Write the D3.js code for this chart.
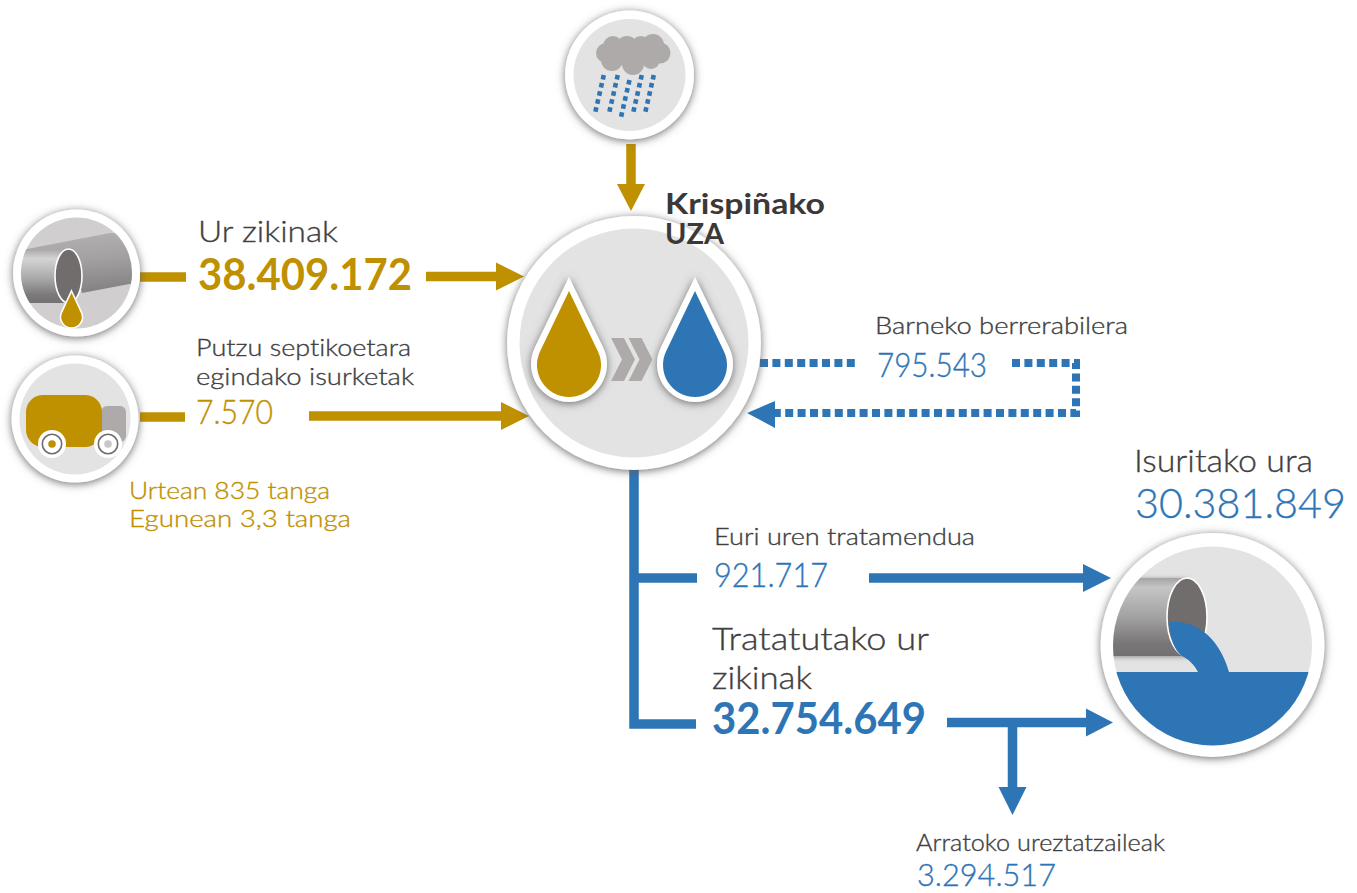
<!DOCTYPE html>
<html>
<head>
<meta charset="utf-8">
<script src="https://cdn.jsdelivr.net/npm/d3@7"></script>
<style>
  html, body { margin: 0; padding: 0; background: #fff; }
  svg { display: block; }
  text { font-family: Lato, "Open Sans", sans-serif; font-variant-ligatures: none; }
</style>
</head>
<body>
<svg id="flowplot" width="1357" height="893"></svg>
<script>
// plant name and flow labels
const plantName = ["Krispiñako", "UZA"]
const sewageLabel = "Ur zikinak"
const septicLabel = ["Putzu septikoetara", "egindako isurketak"]
const tankerNotes = ["Urtean 835 tanga", "Egunean 3,3 tanga"]
const reuseLabel = "Barneko berrerabilera"
const stormLabel = "Euri uren tratamendua"
const treatedLabel = ["Tratatutako ur", "zikinak"]
const dischargedLabel = "Isuritako ura"
const irrigationLabel = "Arratoko ureztatzaileak"

// yearly volumes
const sewageValue = 38409172
const septicValue = 7570
const reuseValue = 795543
const stormValue = 921717
const treatedValue = 32754649
const dischargedValue = 30381849
const irrigationValue = 3294517

const gold = "#bf9000"
const blue = "#2e75b6"
const dark = "#404040"
const grey = "#aeaaaa"
const fmt = d3.formatLocale({decimal: ",", thousands: ".", grouping: [3], currency: ["", ""]}).format(",d")

const svg = d3.select("#flowplot")
const defs = svg.append("defs")

// soft halo under the round icons and the drops
const shadow = defs.append("filter").attr("id", "halo")
  .attr("x", "-30%").attr("y", "-30%").attr("width", "160%").attr("height", "160%")
shadow.append("feDropShadow").attr("dx", 0).attr("dy", 1.5).attr("stdDeviation", 4)
  .attr("flood-color", "#5f5f5f").attr("flood-opacity", 0.9)
const shadowSmall = defs.append("filter").attr("id", "haloSmall")
  .attr("x", "-30%").attr("y", "-30%").attr("width", "160%").attr("height", "160%")
shadowSmall.append("feDropShadow").attr("dx", 0).attr("dy", 1).attr("stdDeviation", 2.5)
  .attr("flood-color", "#6b6b6b").attr("flood-opacity", 0.7)

function gradient(id, stops, x2 = 0) {
  const g = defs.append("linearGradient").attr("id", id)
    .attr("x1", 0).attr("y1", 0).attr("x2", x2).attr("y2", 1)
  stops.forEach(s => g.append("stop").attr("offset", s[0]).attr("stop-color", s[1]))
}
gradient("pipeFront", [[0, "#a8a7a7"], [0.18, "#d4d4d4"], [0.55, "#a9a8a8"], [0.85, "#7b7979"], [1, "#737171"]])
gradient("pipeBack", [[0, "#b4b2b2"], [0.5, "#a3a1a1"], [1, "#868484"]], 0.15)
gradient("pipeOut", [[0, "#a5a4a4"], [0.12, "#c6c5c5"], [0.5, "#a3a2a2"], [0.85, "#777575"], [1, "#727070"]])

// straight arrow: shaft then triangular head
function arrow(x1, y1, x2, y2, color, headLen = 28, headHalf = 14) {
  const horizontal = y1 == y2
  const dir = horizontal ? Math.sign(x2 - x1) : Math.sign(y2 - y1)
  const neck = horizontal ? [x2 - dir * headLen, y2] : [x2, y2 - dir * headLen]
  svg.append("line").attr("x1", x1).attr("y1", y1).attr("x2", neck[0]).attr("y2", neck[1])
    .attr("stroke", color).attr("stroke-width", 9.5)
  const head = horizontal
    ? [[x2, y2], [neck[0], y2 - headHalf], [neck[0], y2 + headHalf]]
    : [[x2, y2], [x2 - headHalf, neck[1]], [x2 + headHalf, neck[1]]]
  svg.append("polygon").attr("points", head.map(p => p.join(",")).join(" ")).attr("fill", color)
}

function bar(points, color, dash) {
  svg.append("path").attr("d", d3.line()(points)).attr("fill", "none")
    .attr("stroke", color).attr("stroke-width", dash ? 8 : 9.5)
    .attr("stroke-dasharray", dash)
}

function drop(parent, x, apex, bottom, r, fill, attrs = {}) {
  const cy = bottom - r
  const d = cy - apex
  const sin = r / d
  const cos = Math.sqrt(1 - sin * sin)
  const path = `M${x},${apex}L${x + r * cos},${cy - r * sin}A${r},${r} 0 1 1 ${x - r * cos},${cy - r * sin}Z`
  const el = parent.append("path").attr("d", path).attr("fill", fill)
  Object.entries(attrs).forEach(([k, v]) => el.attr(k, v))
  return el
}

// white ring + inner disc, returns a group clipped to the disc
function badge(id, cx, cy, r, ri, fill, icy = cy) {
  svg.append("circle").attr("cx", cx).attr("cy", cy).attr("r", r).attr("fill", "#fff").attr("filter", "url(#halo)")
  svg.append("circle").attr("cx", cx).attr("cy", icy).attr("r", ri).attr("fill", fill)
  defs.append("clipPath").attr("id", id).append("circle").attr("cx", cx).attr("cy", icy).attr("r", ri)
  return svg.append("g").attr("clip-path", `url(#${id})`)
}

// connectors go first so the halos sit on top of them
arrow(631, 144, 631, 211, gold, 27, 14)
bar([[140, 277], [186, 277]], gold)
arrow(426, 276.5, 524, 276.5, gold)
bar([[140, 417], [185, 417]], gold)
arrow(309, 416, 529, 416, gold, 28, 14)

bar([[760, 363], [856, 363]], blue, "8 4.4")
bar([[1012, 363], [1076, 363], [1076, 413], [772, 413]], blue, "8 4.4")
svg.append("polygon").attr("points", "747,413 775,401 775,428").attr("fill", blue)

bar([[634, 468], [634, 724], [696, 724]], blue)
bar([[634, 578], [697, 578]], blue)
arrow(869, 578, 1111, 578, blue)
arrow(947, 722.5, 1113, 722.5, blue, 27)
arrow(1012.5, 726, 1012.5, 815, blue, 28, 14)

// rain
const rain = badge("clipRain", 629.5, 75, 64.5, 56, "#e3e3e3")
const cloud = [[606, 53, 10], [613, 46, 10], [627, 47, 11], [641, 46, 10], [653, 45, 11], [660, 53, 10.5], [651, 60, 9], [633, 64, 11], [612, 60, 11]]
rain.selectAll("circle.puff").data(cloud).join("circle").attr("class", "puff")
  .attr("cx", d => d[0]).attr("cy", d => d[1]).attr("r", d => d[2]).attr("fill", grey)
rain.append("rect").attr("x", 606).attr("y", 45).attr("width", 50).attr("height", 16).attr("fill", grey)
const rainCols = [603.3, 617.3, 629, 641.3, 653.3]
const rainDrops = d3.cross(rainCols.map((x, i) => [x, i]), d3.range(5))
rain.selectAll("rect.rain").data(rainDrops).join("rect").attr("class", "rain")
  .attr("width", 4.6).attr("height", 4.6).attr("fill", blue)
  .attr("transform", d => {
    const x = d[0][0] - d[1] * 1.85
    const y = 77.3 + d[1] * 8.05 + (d[0][1] == 2 ? 5 : 0)
    return `translate(${x},${y}) rotate(12)`
  })
  .attr("x", -2.3).attr("y", -2.3)

// sewer pipe
const pipe = badge("clipPipe", 76.5, 273, 63.5, 55.5, "#d0cece")
pipe.append("polygon").attr("points", "27,249 110,233 135,233 135,283 82,293 70,249").attr("fill", "url(#pipeBack)")
pipe.append("rect").attr("x", 18).attr("y", 249).attr("width", 51).attr("height", 54).attr("fill", "url(#pipeFront)")
svg.append("ellipse").attr("cx", 68.5).attr("cy", 276).attr("rx", 13.5).attr("ry", 27)
  .attr("fill", "#716d6d").attr("stroke", "#fff").attr("stroke-width", 1.6)
drop(svg, 71.5, 291, 328, 11, gold, {stroke: "#fff", "stroke-width": 1.6})

// tanker truck
badge("clipTruck", 75, 419, 63.5, 55.5, "#e3e3e3")
svg.append("rect").attr("x", 101).attr("y", 406).attr("width", 25).attr("height", 36).attr("rx", 6).attr("fill", grey)
svg.append("rect").attr("x", 26).attr("y", 395).attr("width", 76).attr("height", 52).attr("rx", 17).attr("fill", gold)
const wheels = [[52, gold], [108, "#c9c7c7"]]
wheels.forEach(w => {
  svg.append("circle").attr("cx", w[0]).attr("cy", 444).attr("r", 14).attr("fill", "#fff")
  svg.append("circle").attr("cx", w[0]).attr("cy", 444).attr("r", 9.7).attr("fill", "none").attr("stroke", "#6f6b6b").attr("stroke-width", 1.6)
  svg.append("circle").attr("cx", w[0]).attr("cy", 444).attr("r", 3.8).attr("fill", w[1])
})

// treatment plant
const plant = badge("clipPlant", 634, 343, 127, 114.5, "#e3e3e3")
drop(plant, 569, 277, 402, 38, "#fff", {filter: "url(#halo)"})
drop(plant, 569, 291, 397, 32, gold)
drop(plant, 695, 277, 402, 38, "#fff", {filter: "url(#halo)"})
drop(plant, 695, 291, 397, 32, blue)
const chevron = [[0, 0], [13, 0], [24, 21.5], [13, 43], [0, 43], [11, 21.5]]
;[611, 628.5].forEach(x => {
  plant.append("polygon").attr("points", chevron.map(p => `${x + p[0]},${338 + p[1]}`).join(" ")).attr("fill", grey)
})

// outfall
const outfall = badge("clipOut", 1212.5, 645, 112, 99.5, "#e3e3e3", 646)
outfall.append("rect").attr("x", 1105).attr("y", 578).attr("width", 82).attr("height", 78)
  .attr("fill", "url(#pipeOut)").attr("filter", "url(#haloSmall)")
outfall.append("ellipse").attr("cx", 1187).attr("cy", 617).attr("rx", 20).attr("ry", 39)
  .attr("fill", "#716d6d").attr("stroke", "#fff").attr("stroke-width", 1.6)
outfall.append("path").attr("fill", blue)
  .attr("d", "M1170,622C1198,620 1220,640 1229,672L1198,672C1194,664 1188,659 1182,656C1174,650 1169,636 1170,622Z")
outfall.append("rect").attr("x", 1105).attr("y", 672).attr("width", 215).attr("height", 80).attr("fill", blue)

// text, each line fitted to the width it has in the picture
// the light face is a bit too thin on its own, so it gets a hairline stroke
function label(text, x, y, width, size, color, weight = 300) {
  svg.append("text").attr("x", x).attr("y", y)
    .attr("font-size", size).attr("font-weight", weight).attr("fill", color)
    .attr("stroke", weight == 300 ? color : "none").attr("stroke-width", 0.35)
    .attr("textLength", width).attr("lengthAdjust", "spacingAndGlyphs")
    .text(text)
}

label(plantName[0], 665, 214, 160, 29, "#3b3838", 700)
label(plantName[1], 665, 244, 59, 29, "#3b3838", 700)

label(sewageLabel, 198, 242, 140, 30, dark)
label(fmt(sewageValue), 198, 290, 214, 43, gold, 700)
label(septicLabel[0], 196, 356, 215, 24, dark)
label(septicLabel[1], 196, 385, 218, 24, dark)
label(fmt(septicValue), 196, 424, 77, 33, gold)
label(tankerNotes[0], 129, 499, 201, 24, gold)
label(tankerNotes[1], 129, 527, 222, 24, gold)

label(reuseLabel, 875, 334, 253, 24, dark)
label(fmt(reuseValue), 877, 377, 110, 33, blue)

label(stormLabel, 714, 545, 261, 24, dark)
label(fmt(stormValue), 714, 587, 114, 33, blue)
label(treatedLabel[0], 712, 650, 217, 32, dark)
label(treatedLabel[1], 712, 689, 100, 32, dark)
label(fmt(treatedValue), 712, 734, 214, 43, blue, 700)

label(dischargedLabel, 1134, 472, 179, 32, dark)
label(fmt(dischargedValue), 1135, 518, 211, 42, blue)
label(irrigationLabel, 916, 851, 249, 23, dark)
label(fmt(irrigationValue), 917, 886, 139, 32, blue)
</script>
</body>
</html>
